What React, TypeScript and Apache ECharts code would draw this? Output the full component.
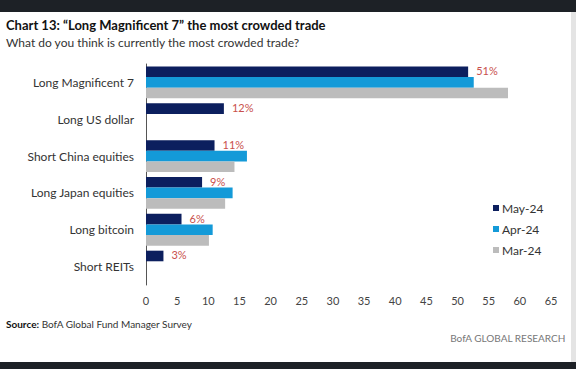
import React, { useEffect, useRef } from "react";
import * as echarts from "echarts";

const categories = [
  "Long Magnificent 7",
  "Long US dollar",
  "Short China equities",
  "Long Japan equities",
  "Long bitcoin",
  "Short REITs",
];
const seriesNames = ["May-24", "Apr-24", "Mar-24"];
const may24 = [51.7, 12.5, 11, 9, 5.7, 2.8];
const apr24 = [52.6, null, 16.2, 13.9, 10.7, null];
const mar24 = [58.1, null, 14.2, 12.7, 10.1, null];
const mayLabels = ["51%", "12%", "11%", "9%", "6%", "3%"];
const xTicks = { min: 0, max: 65, interval: 5 };

const FONT = "Lato, 'Open Sans', sans-serif";
const colors = ["#0c1f5e", "#149ad8", "#bcbcbc"];

export default function App() {
  const ref = useRef<HTMLDivElement>(null);
  useEffect(() => {
    document.body.style.margin = "0";
    const chart = echarts.init(ref.current!, null, { renderer: "svg" });
    const barW = 10.6;
    chart.setOption({
      animation: false,
      backgroundColor: "#ffffff",
      textStyle: { fontFamily: FONT },
      grid: { left: 146, right: 25, top: 64, bottom: 84, containLabel: false },
      legend: {
        orient: "vertical",
        left: 488,
        top: 197,
        itemWidth: 6,
        itemHeight: 6,
        itemGap: 9,
        icon: "rect",
        textStyle: { fontSize: 12, color: "#333", fontFamily: FONT, padding: [0, 0, 0, -2] },
        data: seriesNames,
      },
      xAxis: {
        type: "value",
        min: xTicks.min,
        max: xTicks.max,
        interval: xTicks.interval,
        axisLine: { show: false },
        axisTick: { show: false },
        splitLine: { show: false },
        axisLabel: { fontSize: 11, color: "#444", margin: 10, fontFamily: FONT },
      },
      yAxis: {
        type: "category",
        data: categories,
        inverse: true,
        axisLine: { show: true, lineStyle: { color: "#555", width: 1 } },
        axisTick: { show: false },
        axisLabel: { fontSize: 12, color: "#333", margin: 12, fontFamily: FONT },
      },
      series: [
        {
          name: seriesNames[0],
          type: "bar",
          data: may24,
          barWidth: barW,
          barGap: "0%",
          itemStyle: { color: colors[0] },
          label: {
            show: true,
            position: "right",
            distance: 8,
            offset: [0, -1],
            color: "#c9504c",
            fontSize: 11,
            fontFamily: FONT,
            formatter: (p: any) => mayLabels[p.dataIndex],
          },
        },
        {
          name: seriesNames[1],
          type: "bar",
          data: apr24,
          barWidth: barW,
          barGap: "0%",
          itemStyle: { color: colors[1] },
        },
        {
          name: seriesNames[2],
          type: "bar",
          data: mar24,
          barWidth: barW,
          barGap: "0%",
          itemStyle: { color: colors[2] },
        },
      ],
      graphic: [
        { type: "rect", left: 0, top: 0, shape: { width: 576, height: 12 }, style: { fill: "#1d2126" } },
        { type: "rect", left: 0, top: 362, shape: { width: 576, height: 7 }, style: { fill: "#1d2126" } },
        { type: "rect", left: 571, top: 12, shape: { width: 5, height: 350 }, style: { fill: "#e4e4e4" } },
        {
          type: "text",
          left: 6,
          top: 18,
          style: {
            text: "Chart 13: \u201cLong Magnificent 7\u201d the most crowded trade",
            fontSize: 13,
            fontWeight: "bold",
            fill: "#111",
            fontFamily: FONT,
          },
        },
        {
          type: "text",
          left: 6,
          top: 36,
          style: {
            text: "What do you think is currently the most crowded trade?",
            fontSize: 12,
            fill: "#333",
            fontFamily: FONT,
          },
        },
        {
          type: "text",
          left: 6,
          top: 319,
          style: {
            text: "{b|Source:} BofA Global Fund Manager Survey",
            fontSize: 10,
            fill: "#333",
            fontFamily: FONT,
            rich: { b: { fontWeight: "bold", fontSize: 10, fill: "#111", fontFamily: FONT } },
          },
        },
        {
          type: "text",
          right: 10,
          top: 333,
          style: {
            text: "BofA GLOBAL RESEARCH",
            fontSize: 10,
            fill: "#777",
            fontFamily: FONT,
          },
        },
      ],
    });
    return () => chart.dispose();
  }, []);
  return <div ref={ref} style={{ width: 576, height: 369 }} />;
}
